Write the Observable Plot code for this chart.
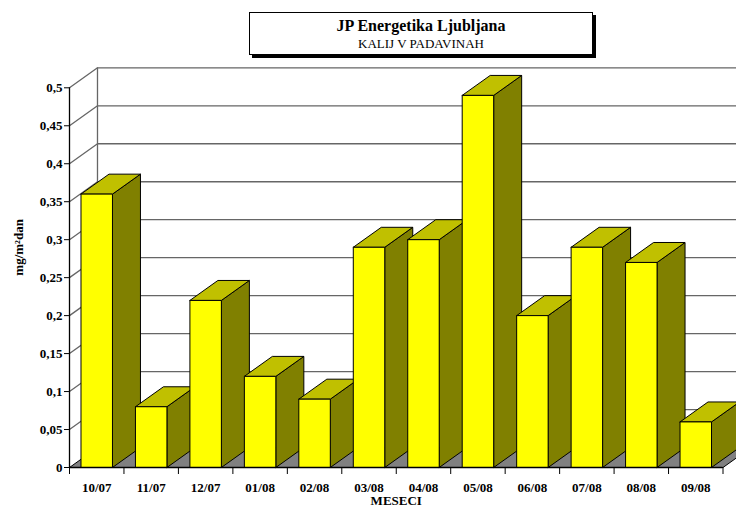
<!DOCTYPE html>
<html><head><meta charset="utf-8">
<script src="https://cdn.jsdelivr.net/npm/d3@7"></script>
<script src="https://cdn.jsdelivr.net/npm/@observablehq/plot@0.6"></script>
<style>
body{margin:0;background:#fff;overflow:hidden}
#wrap{position:relative;width:736px;height:511px;overflow:hidden}
#title{position:absolute;left:249px;top:12px;width:344px;height:43px;box-sizing:border-box;border:1px solid #000;box-shadow:3px 3px 0 #000;background:#fff;text-align:center;font-family:'Liberation Serif','Times New Roman',serif;color:#000;padding-top:5px}
#title .t1{font-weight:bold;font-size:16px;line-height:16px}
#title .t2{font-size:13px;line-height:13px;margin-top:3px}
</style></head>
<body><div id="wrap"><div id="title"><div class="t1">JP Energetika Ljubljana</div><div class="t2">KALIJ V PADAVINAH</div></div></div>
<script>
// ---- data ----
const months = ["10/07","11/07","12/07","01/08","02/08","03/08","04/08","05/08","06/08","07/08","08/08","09/08"];
const values = [0.36, 0.08, 0.22, 0.12, 0.09, 0.29, 0.30, 0.49, 0.20, 0.29, 0.27, 0.06];
const yTicks = [0, 0.05, 0.1, 0.15, 0.2, 0.25, 0.3, 0.35, 0.4, 0.45, 0.5];
const yTickLabels = ["0","0,05","0,1","0,15","0,2","0,25","0,3","0,35","0,4","0,45","0,5"];
const yLabel = "mg/m²dan";
const xLabel = "MESECI";

// ---- 3D geometry (in scale units) ----
const n = months.length;
const dX = 0.514, dY = 0.0263;   // depth offset
const bL = 0.211, bR = 0.789;    // front face within band
const boundaries = d3.range(n + 1);

// floor
const floor = [[0,0],[n,0],[n+dX,dY],[dX,dY],[0,0]].map(([x,y]) => ({x, y}));

// walls / grid
const grid = [];
yTicks.forEach((v, k) => {
  if (v === 0) return;
  grid.push({g:k, x:0, y:v}, {g:k, x:dX, y:v+dY}, {g:k, x:n+dX, y:v+dY});
});
grid.push({g:"v", x:dX, y:dY}, {g:"v", x:dX, y:yTicks[yTicks.length-1]+dY});

// bar faces, painter's order left to right
const faces = [];
values.forEach((v, i) => {
  const fl = i + bL, fr = i + bR;
  const side = [[fr,0],[fr,v],[fr+dX,v+dY],[fr+dX,dY],[fr,0]];
  const top = [[fl,v],[fr,v],[fr+dX,v+dY],[fl+dX,v+dY],[fl,v]];
  const front = [[fl,0],[fl,v],[fr,v],[fr,0],[fl,0]];
  [[side,"#808000","s"],[top,"#C0C000","t"],[front,"#FFFF00","f"]].forEach(([pts,c,k]) =>
    pts.forEach(([x,y]) => faces.push({id: i + k, x, y, c})));
});

const font = "'Liberation Serif','Times New Roman',serif";

const chart = Plot.plot({
  width: 736, height: 511,
  marginLeft: 69, marginRight: 13.5, marginTop: 87.3, marginBottom: 44,
  style: {fontFamily: font, fontSize: "13px", fontWeight: "bold", color: "#000", background: "transparent"},
  x: {type: "linear", domain: [0, n], ticks: boundaries, tickFormat: () => "", tickSize: 7, label: null},
  y: {type: "linear", domain: [0, 0.5], ticks: yTicks, tickFormat: d => yTickLabels[yTicks.indexOf(d)], tickSize: 5, tickPadding: 2, label: null},
  color: {type: "identity"},
  marks: [
    Plot.line(grid, {x: "x", y: "y", z: "g", stroke: "#666", strokeWidth: 1.3}),
    Plot.line(floor, {x: "x", y: "y", fill: "#808080", stroke: "#000", strokeWidth: 1}),
    Plot.line(faces, {x: "x", y: "y", z: "id", fill: "c", stroke: "#000", strokeWidth: 1, strokeLinejoin: "miter"}),
    Plot.ruleX([0], {y1: 0, y2: 0.5, stroke: "#000", strokeWidth: 1.3}),
    Plot.ruleY([0], {x1: 0, x2: n, stroke: "#000", strokeWidth: 1.3}),
    Plot.text(months, {x: (d, i) => i + 0.5, y: 0, dy: 20, text: d => d, fontWeight: "bold", fontSize: 13}),
    Plot.text([xLabel], {frameAnchor: "bottom", dy: 37, fontWeight: "bold", fontSize: 13}),
    Plot.text([yLabel], {frameAnchor: "left", dx: -51, dy: -2, rotate: -90, fontWeight: "bold", fontSize: 13})
  ]
});
document.getElementById("wrap").prepend(chart);
</script>
</body></html>
